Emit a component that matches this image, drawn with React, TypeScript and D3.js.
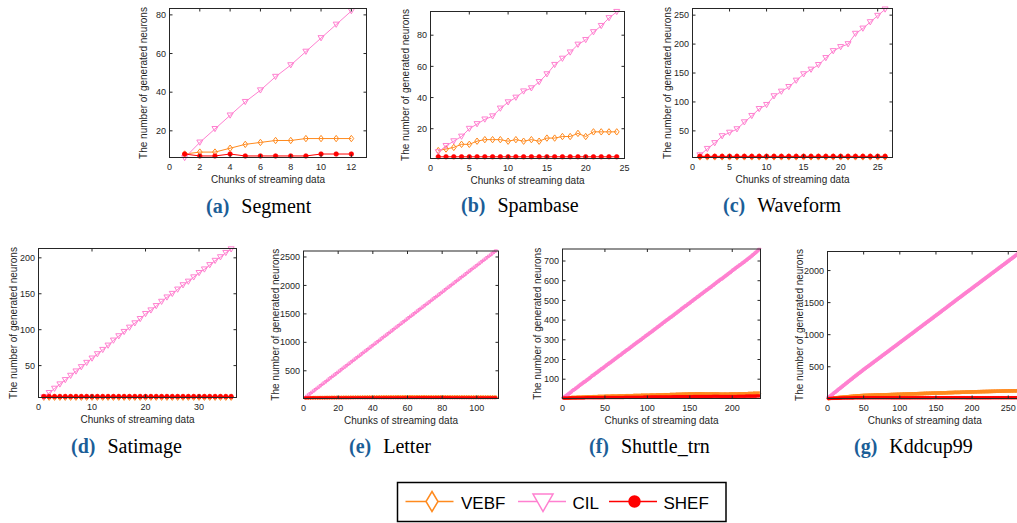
import React from 'react';
import * as d3 from 'd3';

// cumulative neuron counts from the number added in each chunk
const running = (steps: number[]): number[] => Array.from(d3.cumsum(steps));

const seriesNames = ['VEBF', 'CIL', 'SHEF'];

// (a) Segment
const segmentVEBF = [8, 9, 9, 11, 13, 14, 15, 15, 16, 16, 16, 16];
const segmentCIL = [6, 14, 21, 28, 35, 41, 48, 54, 61, 68, 75, 82];
const segmentSHEF = [8, 7, 7, 8, 7, 7, 7, 7, 7, 8, 8, 8];

// (b) Spambase
const spambaseVEBF = [6, 7, 8, 10, 10, 12, 13, 13, 13, 12, 13, 12, 13, 12, 14, 14, 15, 15, 17, 15, 18, 18, 18, 18];
const spambaseCIL = [5, 9, 12, 15, 20, 23, 26, 28, 33, 37, 40, 44, 46, 50, 55, 61, 65, 69, 74, 77, 82, 86, 91, 95];
const spambaseSHEF = [2, 2, 2, 2, 2, 2, 2, 2, 2, 2, 2, 2, 2, 2, 2, 2, 2, 2, 2, 2, 2, 2, 2, 2];

// (c) Waveform
const waveformVEBF = [5, 5, 5, 5, 5, 5, 5, 5, 5, 5, 5, 5, 5, 5, 5, 5, 5, 5, 5, 5, 5, 5, 5, 5, 5, 5];
const waveformCIL = [8, 19, 29, 41, 47, 53, 65, 76, 88, 95, 110, 118, 126, 137, 148, 156, 164, 176, 188, 195, 200, 218, 227, 238, 249, 260];
const waveformSHEF = [6, 6, 6, 6, 6, 6, 6, 6, 6, 6, 6, 6, 6, 6, 6, 6, 6, 6, 6, 6, 6, 6, 6, 6, 6, 6];

// (d) Satimage
const satimageVEBF = [6, 6, 6, 6, 6, 6, 6, 6, 6, 6, 6, 6, 6, 6, 6, 6, 6, 6, 6, 6, 6, 6, 6, 6, 6, 6, 6, 6, 6, 6, 6, 6, 6, 6, 6, 6];
const satimageCIL = [6, 12, 18, 24, 30, 36, 42, 48, 54, 60, 66, 72, 78, 85, 91, 97, 103, 109, 115, 122, 127, 133, 139, 145, 150, 156, 162, 167, 173, 179, 184, 190, 196, 201, 207, 212];
const satimageSHEF = [7, 7, 7, 7, 7, 7, 7, 7, 7, 7, 7, 7, 7, 7, 7, 7, 7, 7, 7, 7, 7, 7, 7, 7, 7, 7, 7, 7, 7, 7, 7, 7, 7, 7, 7, 7];

// (e) Letter, neurons added per chunk
const letterVEBFNew = [
  26, 0, 1, 0, 0, 1, 0, 0, 0, 1, 0, 0, 1, 0, 0, 1, 0, 0, 0, 1, 0, 0, 1, 0, 0, 0, 1, 0, 0, 1,
  0, 0, 0, 1, 0, 0, 1, 0, 0, 0, 1, 0, 0, 1, 0, 0, 0, 1, 0, 0, 0, 0, 1, 0, 0, 0, 0, 0, 1, 0,
  0, 0, 0, 0, -1, 0, 0, 0, 0, 0, 0, -1, 0, 0, 0, 0, 0, 1, 0, 0, 0, 0, -1, 0, 0, 0, 0, 0, 0, -1,
  0, 0, 0, 0, 0, -1, 0, 0, 0, 0, 0, 0, 0, -1, 0, 0, 0, 0, 0, 0, 0
];
const letterCILNew = [
  25, 23, 24, 22, 25, 23, 24, 23, 22, 25, 24, 23, 22, 24, 25, 23, 24, 22, 23, 24,
  23, 25, 24, 22, 23, 24, 23, 25, 22, 24, 24, 22, 23, 25, 24, 23, 22, 24, 25, 23,
  23, 24, 22, 23, 25, 24, 23, 22, 24, 23, 24, 23, 25, 22, 23, 24, 24, 23, 22, 25,
  23, 24, 22, 24, 23, 25, 23, 22, 24, 23, 24, 22, 23, 25, 24, 23, 22, 24, 23, 24,
  23, 25, 24, 22, 23, 24, 23, 25, 22, 24, 24, 23, 22, 24, 25, 23, 24, 23, 22, 24,
  23, 24, 25, 22, 23, 24, 23, 22, 24, 25, 23
];
const letterSHEFNew = [
  24, 0, 0, 0, 1, 0, 0, 0, 0, 0, 0, 0, 0, 0, 1, 0, 0, 0, 0, 0, 0, 0, 0, 0, 0, 0, 0, 1, 0, 0,
  0, 0, 0, 0, 0, 0, 0, 0, 0, 0, 0, 0, 1, 0, 0, 0, 0, 0, 0, 0, 0, 0, 0, 0, 0, 0, 0, 0, 0, 0,
  0, 0, 0, 0, 0, 1, 0, 0, 0, 0, 0, 0, 0, 0, 0, 0, 0, 0, 0, 0, 0, 0, 0, 0, -1, 0, 0, 0, 0, 0,
  0, 0, 0, 0, 0, 0, 0, 0, 0, 0, 0, 0, 0, 0, 0, 0, 0, 0, 0, 0, 0
];

// (f) Shuttle_trn, neurons added per chunk
const shuttleVEBFNew = [
  5, 0, 0, 0, 1, 0, 0, 0, 0, 0, 1, 0, 0, 0, 0, 0, 1, 0, 0, 0,
  0, 0, 1, 0, 0, 0, 0, 0, 1, 0, 0, 0, 0, 0, 0, 1, 0, 0, 0, 0,
  0, 1, 0, 0, 0, 0, 0, 0, 0, 1, 0, 0, 0, 0, 0, 0, 1, 0, 0, 0,
  0, 0, 0, 0, 0, 1, 0, 0, 0, 0, 0, 0, 0, 0, 1, 0, 0, 0, 0, 0,
  0, 0, 0, 1, 0, 0, 0, 0, 0, 0, 0, 0, 1, 0, 0, 0, 0, 0, 0, 0,
  0, 0, 1, 0, 0, 0, 0, 0, 0, 0, 1, 0, 0, 0, 0, 0, 0, 0, 1, 0,
  0, 0, 0, 0, 0, 0, 1, 0, 0, 0, 0, 0, 0, 1, 0, 0, 0, 0, 0, 0,
  1, 0, 0, 0, 0, 0, 0, 1, 0, 0, 0, 0, 0, 0, 0, 0, 1, 0, 0, 0,
  0, 0, 0, 0, 0, 0, -1, 0, 0, 0, 0, 0, 0, 0, 0, 0, 0, 0, 0, 0,
  0, 0, 0, 0, -1, 0, 0, 0, 0, 0, 0, 0, 0, 0, 0, 0, 1, 0, 0, 0,
  0, 0, 0, 0, 0, 0, 0, 1, 0, 0, 0, 0, 0, 0, 0, 0, 0, 0, 1, 0,
  0, 0, 0, 0, 1, 0, 0, 0, 0, 0, 0, 0
];
const shuttleCILNew = [
  3, 4, 3, 3, 2, 4, 3, 3, 4, 3, 3, 5, 3, 3, 2, 4, 3, 3, 4, 3,
  4, 3, 3, 3, 4, 3, 2, 3, 4, 3, 3, 3, 4, 3, 5, 3, 2, 3, 4, 3,
  3, 3, 4, 3, 3, 4, 3, 2, 3, 4, 3, 4, 3, 3, 3, 4, 2, 3, 4, 3,
  3, 4, 3, 3, 3, 4, 3, 3, 2, 4, 4, 3, 3, 3, 4, 3, 3, 2, 4, 3,
  4, 3, 3, 4, 3, 3, 3, 4, 3, 3, 2, 4, 3, 3, 4, 3, 3, 4, 3, 3,
  3, 3, 4, 3, 2, 4, 3, 4, 3, 3, 3, 4, 3, 3, 3, 4, 3, 3, 4, 3,
  3, 4, 3, 3, 3, 3, 4, 3, 2, 4, 3, 3, 4, 3, 3, 4, 3, 3, 3, 4,
  4, 3, 3, 3, 4, 2, 3, 4, 3, 3, 3, 4, 3, 3, 4, 3, 3, 3, 4, 3,
  3, 3, 4, 3, 3, 3, 4, 3, 3, 4, 2, 3, 4, 3, 3, 3, 4, 3, 3, 4,
  3, 4, 3, 3, 3, 4, 3, 2, 3, 4, 3, 3, 4, 3, 3, 4, 3, 3, 3, 4,
  4, 3, 3, 3, 4, 3, 3, 3, 4, 2, 3, 4, 3, 3, 3, 4, 3, 3, 4, 3,
  3, 4, 3, 4, 4, 3, 4, 4, 3, 4, 4, 5
];
const shuttleSHEFNew = [
  4, 0, 0, 0, 0, 0, 0, 0, 1, 0, 0, 0, 0, 0, 0, 0, 0, 0, 0, 0,
  0, 0, 0, 0, 0, 0, 1, 0, 0, 0, 0, 0, 0, 0, 0, 0, 0, 0, 0, 0,
  0, 0, 0, 0, 0, 0, 0, 0, 0, 1, 0, 0, 0, 0, 0, 0, 0, 0, 0, 0,
  0, 0, 0, 0, 0, 0, 0, 0, 0, 0, 0, 0, 1, 0, 0, 0, 0, 0, 0, 0,
  0, 0, 0, 0, 0, 0, 0, 0, 0, 0, 0, 0, 0, 0, 0, 1, 0, 0, 0, 0,
  0, 0, 0, 1, 0, 0, 0, 0, 0, 0, 0, 0, 0, 0, 0, 0, 0, 0, 0, 0,
  0, 0, 0, 0, 0, 0, 0, 0, 0, 1, 0, 0, 0, 0, 0, 0, 0, 0, 0, 0,
  0, 0, 0, 0, 0, 0, 0, 0, 0, 0, 0, 0, 0, 1, 0, 0, 0, 0, 0, 0,
  0, 0, 0, 0, 0, 0, 0, 0, 0, 0, 0, 0, 0, 0, 0, 0, 1, 0, 0, 0,
  0, 0, 0, 0, -1, 0, 0, 0, 0, 0, 0, 0, 0, 0, 0, 0, 0, 0, 0, 0,
  0, 0, 0, 0, 0, 1, 0, 0, 0, 0, 0, 0, 0, 0, 0, 1, 0, 0, 0, 0,
  0, 0, 0, 0, 0, 0, 0, 0, 1, 0, 0, 0
];

// (g) Kddcup99, neurons added per chunk
const kddVEBFNew = [
  5, 1, 1, 1, 1, 1, 1, 1, 1, 1, 1, 1, 1, 1, 1, 1, 1, 1, 1, 1,
  1, 1, 1, 1, 1, 1, 1, 1, 1, 1, 1, 1, 1, 1, 1, 1, 1, 1, 1, 1,
  1, 1, 1, 0, 1, 1, 1, 0, 1, 1, 0, 1, 0, 0, 1, 0, 1, 0, 0, 1,
  0, 0, 1, 0, 1, 0, 0, 1, 0, 0, 1, 0, 0, 1, 0, 0, 1, 0, 0, 1,
  0, 0, 1, 0, 0, 1, 0, 1, 0, 0, 1, 0, 0, 1, 0, 1, 0, 0, 1, 0,
  0, 1, 0, 1, 1, 0, 0, 0, 1, 0, 1, 1, 0, 0, 0, 1, 0, 0, 1, 0,
  0, 0, 1, 0, 1, 0, 1, 0, 0, 1, 0, 0, 1, 1, 0, 0, 1, 0, 0, 0,
  1, 0, 0, 1, 1, 0, 0, 1, 0, 0, 0, 1, 0, 1, 0, 1, 0, 0, 1, 0,
  0, 1, 0, 0, 1, 1, 0, 0, 1, 0, 0, 0, 1, 0, 1, 1, 0, 0, 0, 0,
  0, 0, 1, 0, 1, 1, 0, 0, 0, 1, 0, 1, 1, 0, 0, 0, 1, 0, 0, 1,
  0, 1, 0, 0, 1, 0, 0, 1, 0, 0, 0, 1, 0, 0, 1, 0, 0, 0, 1, 0,
  0, 0, 1, 0, 0, 1, 0, 0, 1, 0, 0, 0, 1, 0, 0, 1, 0, 0, 0, 1,
  0, 1, 0, 0, 0, 1, 0, 0, 1, 0, 0, 0, 1, 0, 0, 0, 1, 0, 0, 0,
  0, 1, 0, 0, 1, 0, 0, 1
];
const kddCILNew = [
  9, 9, 10, 9, 8, 9, 9, 10, 9, 9, 8, 9, 9, 10, 9, 9, 9, 8, 10, 9,
  9, 9, 8, 9, 10, 9, 9, 9, 8, 9, 10, 9, 9, 8, 9, 9, 10, 9, 9, 8,
  9, 9, 8, 9, 9, 8, 9, 9, 9, 9, 8, 9, 8, 8, 9, 8, 8, 9, 8, 8,
  9, 8, 9, 8, 8, 9, 8, 9, 8, 9, 8, 9, 8, 8, 9, 8, 9, 8, 8, 9,
  8, 9, 8, 9, 8, 8, 9, 8, 9, 8, 9, 8, 9, 8, 8, 9, 8, 9, 8, 9,
  9, 8, 8, 9, 8, 9, 8, 9, 8, 8, 9, 8, 9, 8, 9, 8, 8, 9, 8, 9,
  8, 9, 8, 9, 9, 8, 8, 9, 8, 9, 8, 9, 8, 9, 8, 8, 9, 8, 9, 8,
  9, 8, 9, 8, 8, 9, 8, 9, 8, 9, 9, 8, 8, 9, 8, 9, 8, 9, 8, 9,
  9, 8, 9, 8, 9, 8, 9, 9, 8, 9, 8, 9, 8, 9, 9, 8, 9, 8, 9, 8,
  9, 8, 9, 8, 8, 9, 8, 9, 8, 9, 8, 9, 8, 8, 9, 8, 9, 8, 8, 9,
  8, 9, 8, 9, 8, 9, 8, 8, 9, 8, 9, 8, 9, 8, 9, 8, 8, 9, 8, 9,
  9, 8, 8, 9, 8, 9, 8, 9, 8, 8, 9, 8, 9, 8, 9, 8, 9, 8, 8, 9,
  8, 9, 8, 9, 8, 8, 9, 8, 9, 8, 9, 8, 9, 8, 8, 9, 8, 9, 8, 9,
  9, 9, 9, 9, 9, 9, 9, 10
];
const kddSHEFNew = [
  5, 1, 0, 1, 0, 1, 0, 0, 1, 0, 0, 1, 0, 0, 0, 1, 0, 0, 0, 1,
  0, 0, 0, 1, 0, 0, 0, 0, 0, 1, 0, 0, 0, 0, 0, 0, 1, 0, 0, 0,
  0, 0, 0, 0, 0, 0, 0, 0, 0, 0, 0, 0, 1, 0, 0, 0, 0, 0, 0, 0,
  0, 0, 0, 0, 0, 0, 0, 0, 0, 0, 0, 0, 0, 0, 0, 0, 0, 0, 0, 0,
  0, 0, 0, 0, 0, 0, 0, -1, 0, 0, 0, 0, 0, 0, 0, 0, 0, 0, 0, 0,
  0, 0, 0, 0, 0, 0, 0, 0, 0, 0, 0, 0, 0, 0, 0, 1, 0, 0, 0, 0,
  0, 0, 0, 0, 0, 0, 0, 0, 0, 0, 0, 0, 0, 0, 0, 0, 0, 0, 0, 0,
  0, 0, 0, 0, 1, 0, 0, 0, 0, 0, 0, 0, 0, 0, 0, 0, 0, 0, 0, 0,
  0, 0, 0, 0, 0, 0, 0, 0, 0, 0, 0, 0, 0, 0, 0, 0, 0, 0, 0, 0,
  0, 0, 0, 0, 0, 0, 0, 0, 0, 0, -1, 0, 0, 0, 0, 0, 0, 0, 0, 0,
  0, 0, 0, 0, 0, 0, 0, 0, 0, 0, 0, 0, 0, 0, 0, 0, 0, 0, 0, 0,
  0, 0, 0, 0, 0, 0, 1, 0, 0, 0, 0, 0, 0, 0, 0, 0, 0, 0, 0, 0,
  0, 0, 0, 0, 0, 0, 0, 0, 0, 0, 0, 0, 0, 0, 0, 0, 0, 0, 0, 0,
  0, 0, 0, 0, 0, 0, 0, 0
];

const panels = [
  { tag: '(a)', name: 'Segment', values: [segmentVEBF, segmentCIL, segmentSHEF], xLim: [0, 13], yLim: [6.2, 83.3], xTicks: [0, 2, 4, 6, 8, 10, 12], yTicks: [20, 40, 60, 80] },
  { tag: '(b)', name: 'Spambase', values: [spambaseVEBF, spambaseCIL, spambaseSHEF], xLim: [0, 25], yLim: [0.9, 95.2], xTicks: [0, 5, 10, 15, 20, 25], yTicks: [20, 40, 60, 80] },
  { tag: '(c)', name: 'Waveform', values: [waveformVEBF, waveformCIL, waveformSHEF], xLim: [0, 27], yLim: [4, 261.5], xTicks: [0, 5, 10, 15, 20, 25], yTicks: [50, 100, 150, 200, 250] },
  { tag: '(d)', name: 'Satimage', values: [satimageVEBF, satimageCIL, satimageSHEF], xLim: [0, 37], yLim: [5.6, 213], xTicks: [0, 10, 20, 30], yTicks: [50, 100, 150, 200] },
  { tag: '(e)', name: 'Letter', values: [running(letterVEBFNew), running(letterCILNew), running(letterSHEFNew)], xLim: [0, 112.5], yLim: [13, 2605], xTicks: [0, 20, 40, 60, 80, 100], yTicks: [500, 1000, 1500, 2000, 2500] },
  { tag: '(f)', name: 'Shuttle_trn', values: [running(shuttleVEBFNew), running(shuttleCILNew), running(shuttleSHEFNew)], xLim: [0, 233.3], yLim: [2, 761], xTicks: [0, 50, 100, 150, 200], yTicks: [100, 200, 300, 400, 500, 600, 700] },
  { tag: '(g)', name: 'Kddcup99', values: [running(kddVEBFNew), running(kddCILNew), running(kddSHEFNew)], xLim: [0, 269], yLim: [5, 2297], xTicks: [0, 50, 100, 150, 200, 250], yTicks: [500, 1000, 1500, 2000] }
];

// plot boxes, caption anchors and marker size, in page pixels
const frames = [
  { x0: 169.5, y0: 8.5, x1: 366.5, y1: 157.5, gap: 22.5, capX: 206, capY: 213, mk: 1 },
  { x0: 430.5, y0: 11.5, x1: 624.5, y1: 158.5, gap: 22, capX: 461, capY: 212, mk: 1 },
  { x0: 692.5, y0: 8.5, x1: 892.5, y1: 157.5, gap: 22, capX: 723, capY: 212, mk: 1 },
  { x0: 38.5, y0: 248.5, x1: 236.5, y1: 397.5, gap: 22, capX: 71, capY: 453, mk: 1 },
  { x0: 303.5, y0: 251, x1: 498.5, y1: 398.5, gap: 25, capX: 349, capY: 453, mk: 0.55 },
  { x0: 562.5, y0: 249, x1: 760.5, y1: 398.5, gap: 22, capX: 589, capY: 453, mk: 0.55 },
  { x0: 827.5, y0: 251.5, x1: 1022, y1: 398.5, gap: 24.5, capX: 854, capY: 453, mk: 0.55 }
];

const colors = ['#ff8a1e', '#ff80d0', '#ff0000'];
const axisColor = '#262626';
const sans = '"Liberation Sans", Arial, Helvetica, sans-serif';
const serif = '"Liberation Serif", "Times New Roman", serif';

function Marker({ kind, x, y, scale = 1 }: { kind: number; x: number; y: number; scale?: number }) {
  if (kind === 2) {
    return <circle cx={x} cy={y} r={2.3 * scale} fill={colors[2]} stroke={colors[2]} strokeWidth={0.6} />;
  }
  const d = kind === 0
    ? `M0,${-3.2 * scale}L${2.4 * scale},0L0,${3.2 * scale}L${-2.4 * scale},0Z`
    : `M${-3 * scale},${-2.4 * scale}L${3 * scale},${-2.4 * scale}L0,${2.8 * scale}Z`;
  return <path transform={`translate(${x},${y})`} d={d} fill="none" stroke={colors[kind]} strokeWidth={1} />;
}

function Subplot({ panel, frame }: { panel: any; frame: any }) {
  const x = d3.scaleLinear().domain(panel.xLim).range([frame.x0, frame.x1]);
  const y = d3.scaleLinear().domain(panel.yLim).range([frame.y1, frame.y0]);
  const line = d3.line<number>().x((_, i) => x(i + 1)).y(d => y(d));
  const tick = 3;
  return (
    <g>
      {panel.values.map((vals: number[], s: number) => (
        <g key={s}>
          <path d={line(vals) || ''} fill="none" stroke={colors[s]} strokeWidth={1} />
          {vals.map((v, i) => (
            <Marker key={i} kind={s} x={x(i + 1)} y={y(v)} scale={frame.mk} />
          ))}
        </g>
      ))}
      <rect x={frame.x0} y={frame.y0} width={frame.x1 - frame.x0} height={frame.y1 - frame.y0}
        fill="none" stroke={axisColor} strokeWidth={1} />
      {panel.xTicks.map((t: number) => (
        <g key={'x' + t}>
          <line x1={x(t)} x2={x(t)} y1={frame.y1} y2={frame.y1 - tick} stroke={axisColor} />
          <line x1={x(t)} x2={x(t)} y1={frame.y0} y2={frame.y0 + tick} stroke={axisColor} />
          <text x={x(t)} y={frame.y1 + 12.2} textAnchor="middle" fontSize={9} fill={axisColor} fontFamily={sans}>{t}</text>
        </g>
      ))}
      {panel.yTicks.map((t: number) => (
        <g key={'y' + t}>
          <line x1={frame.x0} x2={frame.x0 + tick} y1={y(t)} y2={y(t)} stroke={axisColor} />
          <line x1={frame.x1} x2={frame.x1 - tick} y1={y(t)} y2={y(t)} stroke={axisColor} />
          <text x={frame.x0 - 3.5} y={y(t)} dy="0.35em" textAnchor="end" fontSize={9} fill={axisColor} fontFamily={sans}>{t}</text>
        </g>
      ))}
      <text x={(frame.x0 + frame.x1) / 2} y={frame.y1 + 25.5} textAnchor="middle" fontSize={10} fill={axisColor} fontFamily={sans}>
        Chunks of streaming data
      </text>
      <text transform={`translate(${frame.x0 - frame.gap},${(frame.y0 + frame.y1) / 2}) rotate(-90)`}
        textAnchor="middle" fontSize={10} fill={axisColor} fontFamily={sans}>
        The number of generated neurons
      </text>
      <text x={frame.capX} y={frame.capY} fontSize={20} fontFamily={serif}>
        <tspan fill="#1b5e97" fontWeight="bold">{panel.tag}</tspan>
        <tspan dx={12} fill="#000">{panel.name}</tspan>
      </text>
    </g>
  );
}

function Legend() {
  const items = [
    { x0: 405.5, x1: 453.5, mx: 432, tx: 461 },
    { x0: 518, x1: 566, mx: 543, tx: 572.5 },
    { x0: 609, x1: 657, mx: 634.5, tx: 663.5 }
  ];
  const cy = 501.5;
  return (
    <g>
      <rect x={397.5} y={482.5} width={328.5} height={39} fill="#fff" stroke="#000" strokeWidth={1.5} />
      {items.map((it, s) => (
        <g key={s}>
          <line x1={it.x0} x2={it.x1} y1={cy} y2={cy} stroke={colors[s]} strokeWidth={1.5} />
          {s === 0 && <path transform={`translate(${it.mx},${cy})`} d="M0,-10L6,0L0,10L-6,0Z" fill="#fff" stroke={colors[0]} strokeWidth={1.5} />}
          {s === 1 && <path transform={`translate(${it.mx},${cy})`} d="M-10,-7.5L10,-7.5L0,10Z" fill="#fff" stroke={colors[1]} strokeWidth={1.5} />}
          {s === 2 && <circle cx={it.mx} cy={cy} r={6.2} fill={colors[2]} />}
          <text x={it.tx} y={509} fontSize={17} fontFamily={sans} fill="#000">{seriesNames[s]}</text>
        </g>
      ))}
    </g>
  );
}

export default function App() {
  return (
    <svg width={1017} height={523}
      style={{ position: 'fixed', left: 0, top: 0, display: 'block', background: '#fff' }}>
      <rect width={1017} height={523} fill="#fff" />
      {panels.map((p, k) => (
        <Subplot key={p.name} panel={p} frame={frames[k]} />
      ))}
      <Legend />
    </svg>
  );
}
